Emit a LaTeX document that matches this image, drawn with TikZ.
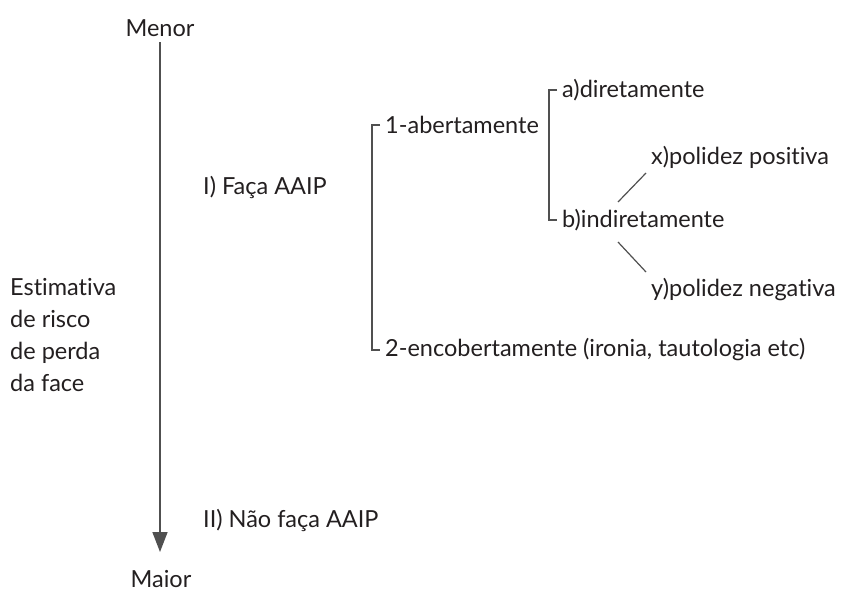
\documentclass[tikz,border=0pt]{standalone}
\usepackage{fontspec}
\setmainfont{Lato}[Ligatures={NoCommon}]
\usetikzlibrary{arrows.meta}
\definecolor{ink}{HTML}{231F20}
\definecolor{rule}{HTML}{505050}
\begin{document}
\begin{tikzpicture}[x=1pt,y=-1pt,
  lbl/.style={font=\fontsize{23.5}{32}\selectfont, text=ink, inner sep=0pt},
  lnk/.style={draw=rule, line width=1.2pt}]
\useasboundingbox (0,0) rectangle (844,592);
\node[lbl] (menor) at (160,28) {Menor};
\node[lbl] (maior) at (161,579) {Maior};
\coordinate (top) at (160,42);
\coordinate (tip) at (160,552);
\draw[lnk, line width=1.6pt, -{Triangle[length=20pt,width=15pt]}] (top) -- (tip);
\node[lbl, anchor=west] (faca) at (203,187) {I) Faça AAIP};
\node[lbl, anchor=west] (nfaca) at (203,520) {II) Não faça AAIP};
\node[lbl, anchor=north west, align=left] (est) at (10,278) {Estimativa\\de risco\\de perda\\da face};
\node[lbl, anchor=west] (abert) at (385,125) {1-abertamente};
\node[lbl, anchor=west] (encob) at (385,350) {2-encobertamente (ironia, tautologia etc)};
\node[lbl, anchor=west] (dir) at (562,90) {a)diretamente};
\node[lbl, anchor=west] (ind) at (562,220) {b)indiretamente};
\node[lbl, anchor=west] (pos) at (651,157) {x)polidez positiva};
\node[lbl, anchor=west] (neg) at (651,290) {y)polidez negativa};
\draw[lnk] ([xshift=-5pt]abert.west) -- ++(-8,0) |- ([xshift=-5pt]encob.west);
\draw[lnk] ([xshift=-5pt]dir.west) -- ++(-8,0) |- ([xshift=-5pt]ind.west);
\draw[lnk] ([shift={(56,-18)}]ind.west) -- ([shift={(84,-47)}]ind.west);
\draw[lnk] ([shift={(56,22)}]ind.west) -- ([shift={(84,52)}]ind.west);
\end{tikzpicture}
\end{document}
